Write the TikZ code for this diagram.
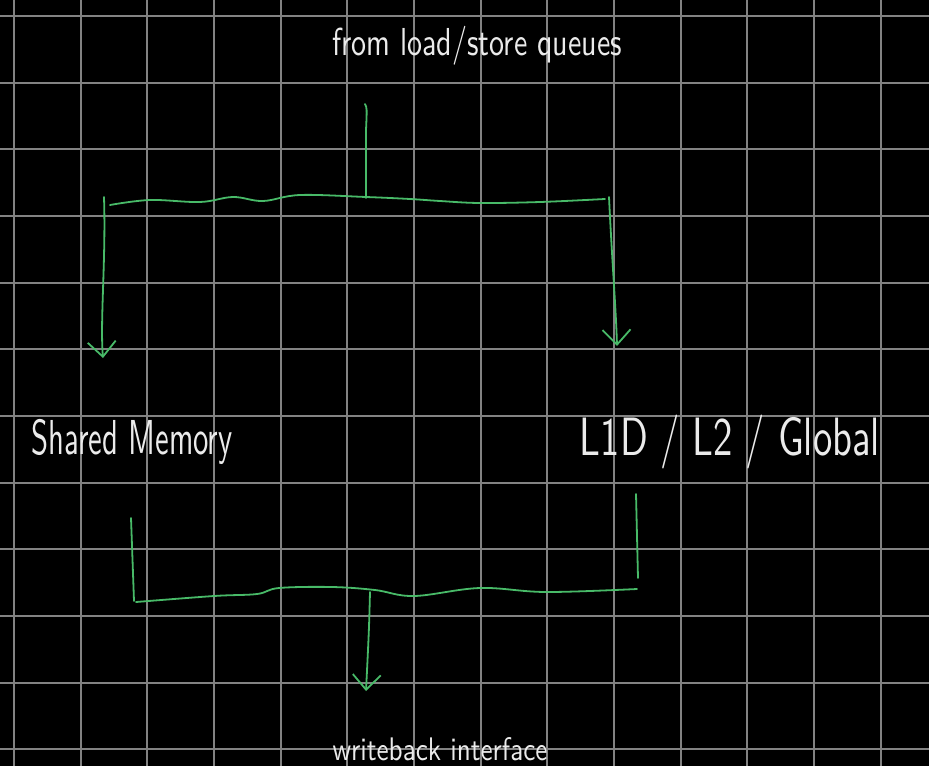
\documentclass[tikz,border=0pt]{standalone}
\usepackage{graphicx}
\usetikzlibrary{arrows.meta}
\definecolor{gridgrey}{RGB}{130,130,130}
\definecolor{pen}{RGB}{72,186,104}
\definecolor{chalk}{RGB}{235,235,235}
\tikzset{
  wire/.style={draw=pen, line width=1.8pt, line cap=round, line join=round},
  arrowwire/.style={wire, -{Straight Barb[length=15pt,width=28pt,line width=1.8pt]}},
  label/.style={text=chalk, inner sep=0pt, font=\sffamily},
  gridline/.style={draw=gridgrey, line width=1.8pt}
}
\begin{document}
\begin{tikzpicture}[x=1pt,y=-1pt]
\fill[black] (0,0) rectangle (929,766);
\useasboundingbox (0,0) rectangle (929,766);
% grid
\foreach \k in {0,...,13} \draw[gridline] ({14+66.667*\k},0) -- ({14+66.667*\k},766);
\foreach \k in {0,...,11} \draw[gridline] (0,{16+66.667*\k}) -- (929,{16+66.667*\k});

% labels
\node[label] (fromq) at (477,46) {\scalebox{1}[1.3]{\resizebox{290pt}{!}{from load/store queues}}};
\node[label] (shm) at (132,442) {\scalebox{1}[1.6]{\resizebox{201pt}{!}{Shared Memory}}};
\node[label] (l1d) at (730,442) {\scalebox{1}[1.4]{\resizebox{300pt}{!}{L1D / L2 / Global}}};
\node[label] (wb) at (440,749) {\scalebox{1}[1.2]{\resizebox{215pt}{!}{writeback interface}}};

% coordinates
\coordinate (inTop) at (365,104);
\coordinate (split) at (366,198);
\coordinate (tl) at (104,197);
\coordinate (tr) at (609,197);
\coordinate (shmIn) at (103,358);
\coordinate (l1dIn) at (617,346);
\coordinate (bl) at (131,518);
\coordinate (blc) at (134,601);
\coordinate (br) at (636,494);
\coordinate (brc) at (638,578);
\coordinate (merge) at (370,592);
\coordinate (wbIn) at (366,691);

% top distribution
\draw[wire] (inTop) .. controls (367,108) .. (366,130) -- (split);
\draw[wire] plot[smooth, tension=0.6] coordinates {(110,205) (150,200) (200,202) (233,197) (263,201) (300,195) (366,197) (410,199) (440,201) (480,203) (540,202) (605,199)};
\draw[arrowwire] (tl) .. controls (106,260) and (100,320) .. (shmIn);
\draw[arrowwire] (tr) .. controls (612,260) and (616,310) .. (l1dIn);

% bottom merge
\draw[wire] (bl) -- (blc);
\draw[wire] (br) -- (brc);
\draw[wire] plot[smooth, tension=0.6] coordinates {(136,602) (214,596) (257,594) (279,588) (332,587) (375,590) (414,596) (480,588) (546,592) (637,589)};
\draw[arrowwire] (merge) .. controls (369,630) .. (wbIn);
\end{tikzpicture}
\end{document}
